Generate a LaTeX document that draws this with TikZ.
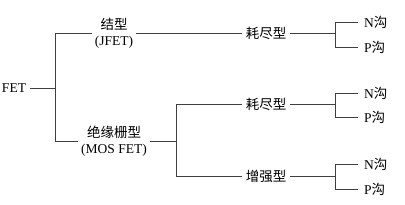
\documentclass[tikz,border=0pt]{standalone}
\usepackage{fontspec}
\setmainfont{Liberation Serif}
\newfontfamily\cjk{Noto Sans CJK SC}
\usetikzlibrary{positioning, calc}
\newcommand{\zh}[1]{{\cjk #1}}

\begin{document}
\begin{tikzpicture}[
    x=1pt, y=-1pt,
    lbl/.style     = {font=\fontsize{13.5}{14}\selectfont, inner sep=4pt, align=center},
    twolbl/.style  = {lbl, font=\fontsize{13.5}{16}\selectfont, inner sep=3pt},
    leaf/.style    = {lbl, anchor=west, inner xsep=6pt, inner ysep=2pt},
    conn/.style    = {line width=0.8pt, draw=black!75},
]

%% ============================================================
%% FRAME
%% ============================================================
\useasboundingbox (0,0) rectangle (405,204);

%% ============================================================
%% COORDINATES
%% ============================================================
\def\xRoot{14}
\def\xSa{55}
\def\xMid{114}
\def\xSb{176}
\def\xType{266}
\def\xSc{335}
\def\xLeaf{358}

%% ============================================================
%% NODES
%% ============================================================
\node[lbl]    (fet)  at (\xRoot, 88)  {FET};
\node[twolbl] (jfet) at (\xMid, 33)   {\zh{结型}\\(JFET)};
\node[twolbl] (mos)  at (\xMid, 141)  {\zh{绝缘栅型}\\(MOS FET)};

\node[lbl]    (dep1) at (\xType, 33)  {\zh{耗尽型}};
\node[lbl]    (dep2) at (\xType, 104) {\zh{耗尽型}};
\node[lbl]    (enh)  at (\xType, 176) {\zh{增强型}};

\node[leaf]   (n1) at (\xLeaf, 22)  {N\zh{沟}};
\node[leaf]   (p1) at (\xLeaf, 47)  {P\zh{沟}};
\node[leaf]   (n2) at (\xLeaf, 93)  {N\zh{沟}};
\node[leaf]   (p2) at (\xLeaf, 117) {P\zh{沟}};
\node[leaf]   (n3) at (\xLeaf, 164) {N\zh{沟}};
\node[leaf]   (p3) at (\xLeaf, 189) {P\zh{沟}};

%% ============================================================
%% SPLIT POINTS
%% ============================================================
\coordinate (sa)  at (\xSa, 88);
\coordinate (sb)  at (\xSb, 141);
\coordinate (sc1) at (\xSc, 33);
\coordinate (sc2) at (\xSc, 104);
\coordinate (sc3) at (\xSc, 176);

%% ============================================================
%% CONNECTIONS
%% ============================================================
\draw[conn] (fet.east) -- (sa);
\draw[conn] (sa) |- (jfet.west);
\draw[conn] (sa) |- (mos.west);

\draw[conn] (jfet.east) -- (dep1.west);
\draw[conn] (mos.east)  -- (sb);
\draw[conn] (sb) |- (dep2.west);
\draw[conn] (sb) |- (enh.west);

\draw[conn] (dep1.east) -- (sc1);
\draw[conn] (dep2.east) -- (sc2);
\draw[conn] (enh.east)  -- (sc3);

\draw[conn] (sc1) |- (n1.west);
\draw[conn] (sc1) |- (p1.west);
\draw[conn] (sc2) |- (n2.west);
\draw[conn] (sc2) |- (p2.west);
\draw[conn] (sc3) |- (n3.west);
\draw[conn] (sc3) |- (p3.west);

\end{tikzpicture}
\end{document}
